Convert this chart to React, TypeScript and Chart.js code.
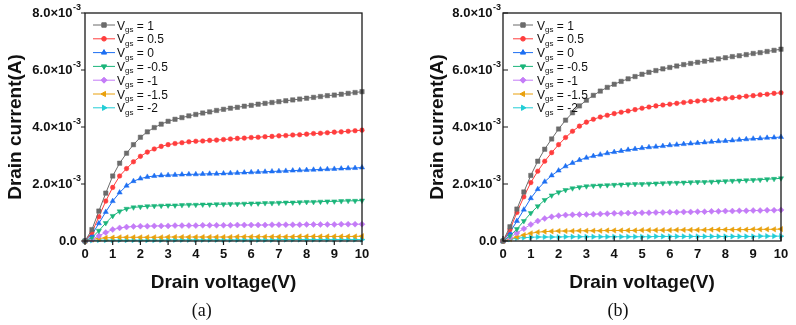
import { useEffect, useRef } from "react";
import { Chart, registerables } from "chart.js";
import { drawPoint } from "chart.js/helpers";

Chart.register(...registerables);

// Drain voltage sweep (V)
const VOLTAGES = [
  0, 0.25, 0.5, 0.75, 1, 1.25, 1.5, 1.75, 2, 2.25, 2.5, 2.75, 3, 3.25, 3.5, 3.75, 4, 4.25, 4.5, 4.75,
  5, 5.25, 5.5, 5.75, 6, 6.25, 6.5, 6.75, 7, 7.25, 7.5, 7.75, 8, 8.25, 8.5, 8.75, 9, 9.25, 9.5, 9.75, 10,
];

// Gate voltages of each curve
const GATE_LABELS = ["1", "0.5", "0", "-0.5", "-1", "-1.5", "-2"];

// Y axis tick values, in units of 10^-3 A
const Y_TICKS = [0, 2, 4, 6, 8];

// ---- Device (a): drain current in units of 10^-3 A ----
const A_VGS_1 = [
  0, 0.4, 1.05, 1.68, 2.28, 2.73, 3.08, 3.38, 3.64, 3.83, 3.98, 4.1, 4.2, 4.27, 4.33, 4.39, 4.44, 4.49, 4.53, 4.58,
  4.62, 4.66, 4.69, 4.73, 4.76, 4.8, 4.83, 4.86, 4.89, 4.92, 4.95, 4.98, 5.01, 5.04, 5.07, 5.1, 5.12, 5.15, 5.18, 5.21, 5.24,
];
const A_VGS_05 = [
  0, 0.3, 0.85, 1.4, 1.88, 2.28, 2.54, 2.78, 2.97, 3.12, 3.23, 3.32, 3.38, 3.42, 3.45, 3.48, 3.5, 3.51, 3.53, 3.54,
  3.56, 3.58, 3.6, 3.61, 3.63, 3.64, 3.66, 3.67, 3.69, 3.7, 3.72, 3.73, 3.75, 3.77, 3.78, 3.8, 3.82, 3.83, 3.85, 3.87, 3.89,
];
const A_VGS_0 = [
  0, 0.22, 0.62, 1.02, 1.4, 1.7, 1.94, 2.1, 2.19, 2.25, 2.28, 2.3, 2.31, 2.32, 2.33, 2.34, 2.34, 2.35, 2.36, 2.36,
  2.37, 2.38, 2.39, 2.4, 2.41, 2.42, 2.43, 2.44, 2.45, 2.46, 2.47, 2.48, 2.49, 2.5, 2.51, 2.52, 2.53, 2.54, 2.55, 2.56, 2.58,
];
const A_VGS_M05 = [
  0, 0.12, 0.36, 0.63, 0.88, 1.04, 1.13, 1.18, 1.2, 1.22, 1.23, 1.24, 1.25, 1.25, 1.26, 1.27, 1.27, 1.28, 1.28, 1.29,
  1.29, 1.3, 1.3, 1.31, 1.32, 1.32, 1.33, 1.33, 1.34, 1.35, 1.35, 1.36, 1.37, 1.37, 1.38, 1.39, 1.39, 1.4, 1.41, 1.41, 1.42,
];
const A_VGS_M1 = [
  0, 0.06, 0.18, 0.3, 0.4, 0.46, 0.49, 0.51, 0.52, 0.52, 0.53, 0.53, 0.53, 0.54, 0.54, 0.54, 0.54, 0.55, 0.55, 0.55,
  0.55, 0.55, 0.56, 0.56, 0.56, 0.56, 0.56, 0.57, 0.57, 0.57, 0.57, 0.57, 0.58, 0.58, 0.58, 0.58, 0.58, 0.59, 0.59, 0.59, 0.59,
];
const A_VGS_M15 = [
  0, 0.05, 0.09, 0.11, 0.12, 0.13, 0.13, 0.13, 0.13, 0.13, 0.13, 0.13, 0.14, 0.14, 0.14, 0.14, 0.14, 0.14, 0.14, 0.14,
  0.14, 0.14, 0.15, 0.15, 0.15, 0.15, 0.15, 0.15, 0.15, 0.15, 0.15, 0.16, 0.16, 0.16, 0.16, 0.16, 0.16, 0.16, 0.16, 0.16, 0.17,
];
const A_VGS_M2 = [
  0, 0.02, 0.03, 0.03, 0.03, 0.03, 0.03, 0.03, 0.03, 0.03, 0.03, 0.03, 0.04, 0.04, 0.04, 0.04, 0.04, 0.04, 0.04, 0.04,
  0.04, 0.04, 0.04, 0.04, 0.04, 0.04, 0.04, 0.04, 0.05, 0.05, 0.05, 0.05, 0.05, 0.05, 0.05, 0.05, 0.05, 0.05, 0.05, 0.05, 0.05,
];

// ---- Device (b): drain current in units of 10^-3 A ----
const B_VGS_1 = [
  0, 0.5, 1.12, 1.72, 2.3, 2.8, 3.22, 3.58, 3.93, 4.24, 4.5, 4.74, 4.94, 5.11, 5.26, 5.39, 5.5, 5.6, 5.69, 5.77,
  5.85, 5.92, 5.98, 6.04, 6.09, 6.14, 6.19, 6.23, 6.27, 6.31, 6.35, 6.39, 6.43, 6.47, 6.5, 6.54, 6.58, 6.61, 6.65, 6.69, 6.73,
];
const B_VGS_05 = [
  0, 0.4, 1.0, 1.55, 2.05, 2.45, 2.8, 3.1, 3.38, 3.63, 3.85, 4.03, 4.17, 4.27, 4.35, 4.41, 4.47, 4.52, 4.56, 4.61,
  4.66, 4.7, 4.74, 4.77, 4.8, 4.83, 4.86, 4.89, 4.91, 4.93, 4.95, 4.98, 5.0, 5.03, 5.05, 5.08, 5.1, 5.13, 5.15, 5.18, 5.2,
];
const B_VGS_0 = [
  0, 0.3, 0.7, 1.1, 1.5, 1.82, 2.08, 2.3, 2.47, 2.62, 2.74, 2.84, 2.92, 2.98, 3.03, 3.08, 3.12, 3.16, 3.2, 3.23,
  3.26, 3.29, 3.31, 3.33, 3.36, 3.38, 3.4, 3.42, 3.44, 3.46, 3.48, 3.5, 3.51, 3.53, 3.55, 3.57, 3.59, 3.6, 3.62, 3.63, 3.65,
];
const B_VGS_M05 = [
  0, 0.18, 0.42, 0.7, 0.98, 1.22, 1.44, 1.6, 1.71, 1.79, 1.85, 1.89, 1.92, 1.94, 1.95, 1.96, 1.97, 1.98, 1.99, 2.0,
  2.0, 2.01, 2.02, 2.03, 2.04, 2.04, 2.05, 2.06, 2.07, 2.07, 2.08, 2.09, 2.1, 2.11, 2.12, 2.13, 2.14, 2.15, 2.17, 2.18, 2.2,
];
const B_VGS_M1 = [
  0, 0.12, 0.28, 0.43, 0.58, 0.7, 0.79, 0.85, 0.89, 0.91, 0.92, 0.93, 0.93, 0.94, 0.95, 0.96, 0.97, 0.97, 0.98, 0.98,
  0.99, 0.99, 1.0, 1.0, 1.01, 1.01, 1.02, 1.02, 1.03, 1.03, 1.04, 1.04, 1.05, 1.05, 1.06, 1.06, 1.07, 1.07, 1.08, 1.08, 1.09,
];
const B_VGS_M15 = [
  0, 0.07, 0.14, 0.21, 0.27, 0.31, 0.33, 0.34, 0.35, 0.35, 0.35, 0.36, 0.36, 0.36, 0.36, 0.37, 0.37, 0.37, 0.37, 0.37,
  0.38, 0.38, 0.38, 0.38, 0.38, 0.39, 0.39, 0.39, 0.39, 0.39, 0.4, 0.4, 0.4, 0.4, 0.4, 0.4, 0.41, 0.41, 0.41, 0.41, 0.42,
];
const B_VGS_M2 = [
  0, 0.06, 0.1, 0.12, 0.13, 0.14, 0.14, 0.14, 0.14, 0.15, 0.15, 0.15, 0.15, 0.15, 0.15, 0.15, 0.15, 0.15, 0.15, 0.15,
  0.15, 0.15, 0.16, 0.16, 0.16, 0.16, 0.16, 0.16, 0.16, 0.16, 0.16, 0.16, 0.16, 0.16, 0.16, 0.16, 0.16, 0.17, 0.17, 0.17, 0.17,
];

const SERIES_A = [A_VGS_1, A_VGS_05, A_VGS_0, A_VGS_M05, A_VGS_M1, A_VGS_M15, A_VGS_M2];
const SERIES_B = [B_VGS_1, B_VGS_05, B_VGS_0, B_VGS_M05, B_VGS_M1, B_VGS_M15, B_VGS_M2];

// Per-curve look: colour, marker shape, marker rotation, marker radius
const STYLES = [
  { color: "#6b6b6b", shape: "rect", rot: 0, r: 3.1 },
  { color: "#ff3d3d", shape: "circle", rot: 0, r: 2.3 },
  { color: "#1d6ff2", shape: "triangle", rot: 0, r: 3 },
  { color: "#1bb57a", shape: "triangle", rot: 180, r: 3 },
  { color: "#c47cf7", shape: "rectRot", rot: 0, r: 3 },
  { color: "#e9a00c", shape: "triangle", rot: -90, r: 3 },
  { color: "#22cdd6", shape: "triangle", rot: 90, r: 3 },
];

const SANS = "'Liberation Sans', Arial, sans-serif";

const decorPlugin = {
  id: "decor",
  afterDatasetsDraw(chart: any, _args: any, opts: any) {
    const { ctx, chartArea: a, scales } = chart;
    const xs = scales.x;
    const ys = scales.y;
    ctx.save();

    // plot frame
    ctx.strokeStyle = "#1a1a1a";
    ctx.lineWidth = 1.3;
    ctx.strokeRect(a.left, a.top, a.right - a.left, a.bottom - a.top);

    // tick marks (inward or outward)
    const dir = opts.inward ? 1 : -1;
    ctx.lineWidth = 1.2;
    ctx.beginPath();
    xs.ticks.forEach((t: any) => {
      const px = xs.getPixelForValue(t.value);
      ctx.moveTo(px, a.bottom);
      ctx.lineTo(px, a.bottom - dir * opts.tickLen);
    });
    ys.ticks.forEach((t: any) => {
      const py = ys.getPixelForValue(t.value);
      ctx.moveTo(a.left, py);
      ctx.lineTo(a.left + dir * opts.tickLen, py);
    });
    ctx.stroke();

    // y tick labels with exponent
    ctx.fillStyle = "#111";
    ctx.textBaseline = "middle";
    const right = a.left - opts.labelGap;
    ys.ticks.forEach((t: any) => {
      const py = ys.getPixelForValue(t.value);
      if (t.value === 0) {
        ctx.font = `bold 13px ${SANS}`;
        ctx.textAlign = "right";
        ctx.fillText("0.0", right - 4, py);
        return;
      }
      ctx.font = `bold 9px ${SANS}`;
      const sup = "-3";
      const sw = ctx.measureText(sup).width;
      ctx.textAlign = "left";
      ctx.fillText(sup, right - sw, py - 5);
      ctx.font = `bold 13px ${SANS}`;
      ctx.textAlign = "right";
      ctx.fillText(t.value.toFixed(1) + "×10", right - sw - 0.5, py);
    });

    // legend
    const L = opts.legend;
    chart.data.datasets.forEach((ds: any, i: number) => {
      const yy = L.y0 + i * L.step;
      const x0 = a.left + L.dx0;
      const x1 = a.left + L.dx1;
      ctx.strokeStyle = ds.borderColor;
      ctx.lineWidth = 1;
      ctx.beginPath();
      ctx.moveTo(x0, yy);
      ctx.lineTo(x1, yy);
      ctx.stroke();
      ctx.fillStyle = ds.pointBackgroundColor;
      drawPoint(
        ctx,
        { pointStyle: ds.pointStyle, rotation: ds.pointRotation, radius: ds.pointRadius, borderWidth: 0.5 },
        (x0 + x1) / 2,
        yy
      );
      ctx.fillStyle = "#111";
      ctx.textAlign = "left";
      ctx.textBaseline = "alphabetic";
      const tx = a.left + L.dtext;
      const base = yy + 4.5;
      ctx.font = `12px ${SANS}`;
      ctx.fillText("V", tx, base);
      const vw = ctx.measureText("V").width;
      ctx.font = `8px ${SANS}`;
      ctx.fillText("gs", tx + vw, base + 2.5);
      const gw = ctx.measureText("gs").width;
      ctx.font = `12px ${SANS}`;
      ctx.fillText(" = " + GATE_LABELS[i], tx + vw + gw, base);
    });

    ctx.restore();
  },
};

type PanelProps = {
  series: number[][];
  left: number;
  padLeft: number;
  padRight: number;
  yWidth: number;
  inward: boolean;
  tickLen: number;
  labelGap: number;
  legend: { dx0: number; dx1: number; dtext: number; y0: number; step: number };
};

function Panel(p: PanelProps) {
  const ref = useRef<HTMLCanvasElement | null>(null);

  useEffect(() => {
    if (!ref.current) return;
    const datasets = p.series.map((vals, i) => {
      const s = STYLES[i];
      return {
        label: "Vgs = " + GATE_LABELS[i],
        data: VOLTAGES.map((v, k) => ({ x: v, y: vals[k] })),
        borderColor: s.color,
        backgroundColor: s.color,
        pointBackgroundColor: s.color,
        pointBorderColor: s.color,
        pointBorderWidth: 0.5,
        pointStyle: s.shape,
        pointRotation: s.rot,
        pointRadius: s.r,
        borderWidth: 1,
        tension: 0,
        clip: false,
      };
    });

    const chart = new Chart(ref.current, {
      type: "line",
      data: { datasets } as any,
      plugins: [decorPlugin as any],
      options: {
        responsive: false,
        animation: false,
        events: [],
        layout: { padding: { left: p.padLeft, right: p.padRight, top: 13, bottom: 24 } },
        plugins: {
          legend: { display: false },
          tooltip: { enabled: false },
          decor: { inward: p.inward, tickLen: p.tickLen, labelGap: p.labelGap, legend: p.legend },
        } as any,
        scales: {
          x: {
            type: "linear",
            min: 0,
            max: 10,
            grid: { display: false, drawTicks: false },
            border: { display: false },
            ticks: {
              stepSize: 1,
              autoSkip: false,
              maxRotation: 0,
              padding: 6,
              color: "#111",
              font: { family: SANS, size: 13, weight: "bold" },
            },
            title: {
              display: true,
              text: "Drain voltage(V)",
              color: "#111",
              font: { family: SANS, size: 19, weight: "bold" },
              padding: { top: 0, bottom: 7 },
            },
            afterFit: (scale: any) => {
              scale.height = 60;
            },
          },
          y: {
            type: "linear",
            min: 0,
            max: 8,
            grid: { display: false, drawTicks: false },
            border: { display: false },
            ticks: { display: false, stepSize: 2 },
            afterBuildTicks: (scale: any) => {
              scale.ticks = Y_TICKS.map((v) => ({ value: v }));
            },
            title: {
              display: true,
              text: "Drain current(A)",
              color: "#111",
              font: { family: SANS, size: 19, weight: "bold" },
              padding: { top: 4, bottom: 0 },
            },
            afterFit: (scale: any) => {
              scale.width = p.yWidth;
            },
          },
        },
      } as any,
    });
    return () => chart.destroy();
  }, []);

  return (
    <canvas
      ref={ref}
      width={398}
      height={325}
      style={{ position: "absolute", left: p.left, top: 0, width: 398, height: 325 }}
    />
  );
}

const captionStyle: any = {
  position: "absolute",
  top: 310,
  transform: "translate(-50%, -50%)",
  fontFamily: "'Liberation Serif', 'Times New Roman', serif",
  fontSize: 18,
  color: "#111",
  whiteSpace: "nowrap",
};

export default function App() {
  return (
    <div style={{ position: "absolute", left: 0, top: 0, width: 796, height: 325, background: "#fff" }}>
      <Panel
        series={SERIES_A}
        left={0}
        padLeft={0}
        padRight={36}
        yWidth={85}
        inward={false}
        tickLen={4}
        labelGap={4}
        legend={{ dx0: 8, dx1: 30, dtext: 32, y0: 25, step: 13.8 }}
      />
      <Panel
        series={SERIES_B}
        left={398}
        padLeft={24}
        padRight={15}
        yWidth={81}
        inward={true}
        tickLen={5}
        labelGap={2}
        legend={{ dx0: 10, dx1: 30, dtext: 34, y0: 25, step: 13.8 }}
      />
      <div style={{ ...captionStyle, left: 201.7 }}>(a)</div>
      <div style={{ ...captionStyle, left: 618 }}>(b)</div>
    </div>
  );
}
